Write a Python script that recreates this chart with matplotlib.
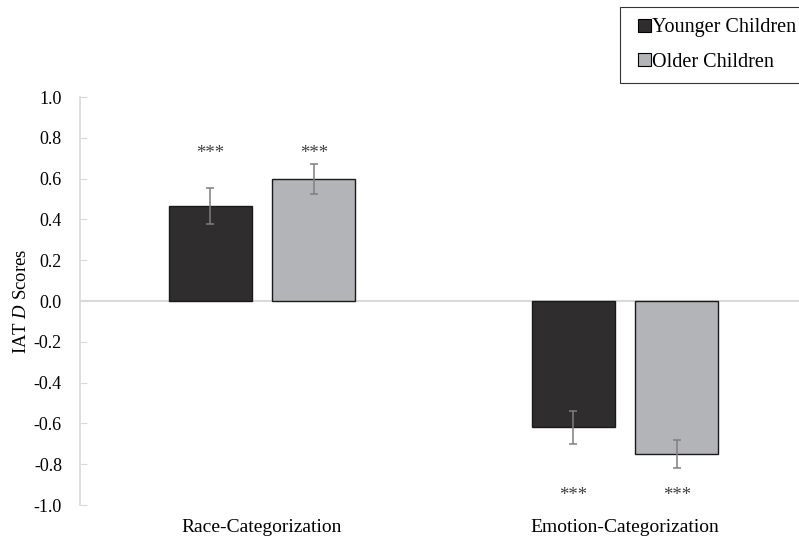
import numpy as np
import matplotlib.pyplot as plt
from matplotlib.patches import Patch, Rectangle
from matplotlib.legend_handler import HandlerPatch

plt.rcParams['font.family'] = ['Liberation Serif', 'DejaVu Serif']
plt.rcParams['mathtext.fontset'] = 'custom'
plt.rcParams['mathtext.rm'] = 'Liberation Serif'
plt.rcParams['mathtext.it'] = 'Liberation Serif:italic'

categories = ['Race-Categorization', 'Emotion-Categorization']
groups = ['Younger Children', 'Older Children']
younger = [0.465, -0.62]
older = [0.598, -0.75]
younger_err = [0.088, 0.083]
older_err = [0.072, 0.07]
star_text = '***'
star_pos = [0.70, -0.975]  # above positive bars, below negative ones
yticks = [1.0, 0.8, 0.6, 0.4, 0.2, 0.0, -0.2, -0.4, -0.6, -0.8, -1.0]

colors = ['#2f2d2e', '#b3b4b7']

fig = plt.figure(figsize=(7.99, 5.40), dpi=100)
ax = fig.add_axes([80 / 799, 1 - 505 / 540, 719 / 799, 408 / 540])

x = np.arange(len(categories))
w = 0.229
off = 0.143
for vals, errs, c, sign in [(younger, younger_err, colors[0], -1),
                            (older, older_err, colors[1], 1)]:
    ax.bar(x + sign * off, vals, w, color=c, edgecolor='#1a1a1a', linewidth=1.0, zorder=2)
    ax.errorbar(x + sign * off, vals, yerr=errs, fmt='none', ecolor='#7f7f7f',
                elinewidth=1.1, capsize=2.8, capthick=1.1, zorder=3)
    for xi, v, sp in zip(x + sign * off, vals, star_pos):
        ax.text(xi, sp, star_text, ha='center', va='baseline', fontsize=13.5, color='#404040')

ax.axhline(0, color='#d9d9d9', linewidth=1.5, zorder=1)
ax.set_xlim((80 - 262) / 363, (799 - 262) / 363)
ax.set_ylim(-1.0, 1.0)
ax.set_yticks(yticks)
ax.set_yticklabels(['{:.1f}'.format(t) for t in yticks], fontsize=13)
ax.set_xticks(x)
ax.set_xticklabels(categories, fontsize=14)
ax.tick_params(axis='x', length=0, pad=10)
ax.tick_params(axis='y', direction='in', length=5, color='#d9d9d9', pad=13)
for s in ['top', 'right', 'bottom']:
    ax.spines[s].set_visible(False)
ax.spines['left'].set_color('#d9d9d9')
ax.spines['left'].set_linewidth(1.2)
fig.text(22 / 799, 1 - 301 / 540, 'IAT $\\it{D}$ Scores', rotation=90,
         ha='center', va='center', fontsize=13.5)


def square_patch(legend, orig_handle, xdescent, ydescent, width, height, fontsize):
    s = 0.65 * fontsize
    return Rectangle((-xdescent + width - s, -ydescent + (height - s) / 2), s, s)


handles = [Patch(facecolor=colors[0], edgecolor='black', linewidth=0.8),
           Patch(facecolor=colors[1], edgecolor='black', linewidth=0.8)]
leg = fig.legend(handles, groups, loc='upper left', bbox_to_anchor=(620 / 799, 1 - 7 / 540),
                 fontsize=14.5, frameon=True, fancybox=False, handlelength=1.0, handleheight=0.7,
                 handletextpad=0.05, borderpad=0.55, labelspacing=0.78, borderaxespad=0,
                 handler_map={Patch: HandlerPatch(patch_func=square_patch)})
leg.get_frame().set_edgecolor('black')
leg.get_frame().set_linewidth(0.8)

fig.savefig('out.png', dpi=100)
